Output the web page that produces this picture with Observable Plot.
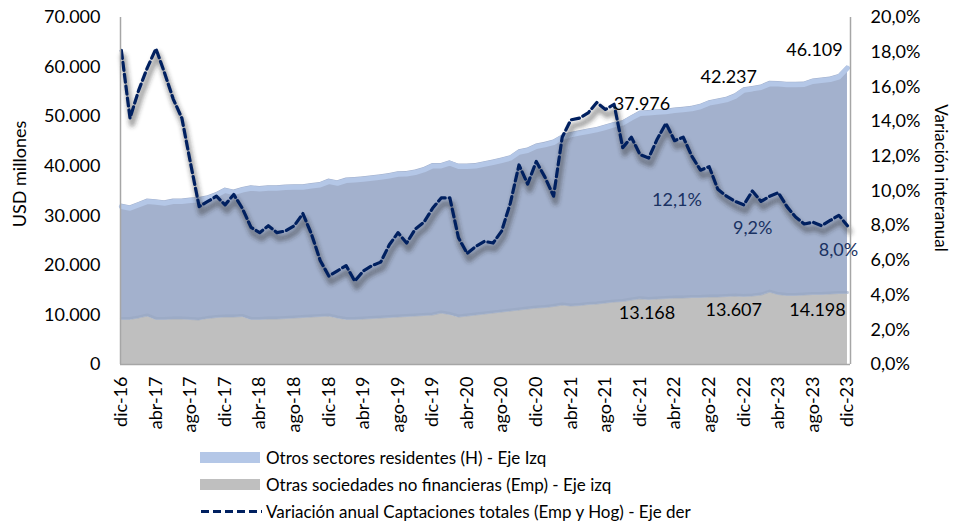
<!DOCTYPE html>
<html><head><meta charset="utf-8">
<script src="https://cdn.jsdelivr.net/npm/d3@7"></script>
<script src="https://cdn.jsdelivr.net/npm/@observablehq/plot@0.6"></script>
<style>
body{margin:0;background:#fff;font-family:Lato,sans-serif;}
#chart{width:953px;height:440px;}
.legend{margin-left:200px;padding-top:4px;font-size:17px;color:#000;line-height:1;}
.row{display:flex;align-items:center;height:27px;}
.sw{width:60px;height:11px;margin-right:6px;}
.txt{white-space:nowrap;}
</style></head><body>
<div id="chart"></div>
<div class="legend">
  <div class="row"><div class="sw" style="background:#b4c7e7"></div><span class="txt" id="l1"></span></div>
  <div class="row"><div class="sw" style="background:#bfbfbf"></div><span class="txt" id="l2"></span></div>
  <div class="row"><svg width="62" height="11" style="margin-right:4px"><line x1="1" x2="62" y1="5.5" y2="5.5" stroke="#002060" stroke-width="3.2" stroke-dasharray="8,4"/></svg><span class="txt" id="l3"></span></div>
</div>
<script>
// Series names
const seriesNames = [
  "Otros sectores residentes (H) - Eje Izq",
  "Otras sociedades no financieras (Emp) - Eje izq",
  "Variación anual Captaciones totales (Emp y Hog) - Eje der"
];
// X tick labels (every 4 months, dic-16 .. dic-23)
const tickLabels = ["dic-16","abr-17","ago-17","dic-17","abr-18","ago-18","dic-18","abr-19","ago-19","dic-19","abr-20","ago-20","dic-20","abr-21","ago-21","dic-21","abr-22","ago-22","dic-22","abr-23","ago-23","dic-23"];
// Otros sectores residentes (H), USD millones, monthly dic-16 .. dic-23
const hogares = [23360,23020,23390,23670,24230,24030,24270,24270,24570,24800,24840,25300,
  26090,25690,26110,27060,26920,26960,26960,27000,26960,26860,27030,27130,
  27700,27770,28610,28730,28770,28880,28980,29140,29390,29350,29530,29950,
  30660,30260,31110,30940,30740,30660,30800,30950,31150,31420,32430,32570,
  33180,33410,33690,34400,35120,35370,35510,35730,36020,36340,36590,37300,
  37976,38250,38300,38300,38450,38600,38700,39100,39730,40070,40300,40900,
  42237,42400,42500,42620,43070,43150,43150,43100,43610,43810,43900,44300,
  46109];
// Otras sociedades no financieras (Emp), USD millones
const empresas = [9000,9000,9300,9700,9000,9000,9100,9100,9000,8900,9200,9400,
  9500,9500,9600,9000,9000,9100,9100,9200,9300,9400,9500,9600,
  9700,9300,9000,9000,9100,9200,9300,9400,9500,9600,9700,9800,
  9900,10300,10000,9500,9700,9900,10100,10300,10500,10700,10900,11100,
  11300,11400,11600,11900,11700,11800,12000,12100,12300,12500,12600,12900,
  13168,13000,13100,13200,13300,13300,13400,13400,13500,13500,13600,13700,
  13607,13700,13900,14500,14000,13800,13800,13900,14000,14000,14100,14200,
  14198];
// Variación anual captaciones totales, %
const variacion = [18.1,14.2,15.8,17.1,18.2,16.8,15.3,14.2,11.6,9.1,9.4,9.7,
  9.2,9.8,9.0,7.9,7.6,8.0,7.6,7.7,8.0,8.7,7.5,6.0,
  5.1,5.4,5.7,4.8,5.4,5.7,5.9,6.9,7.6,7.0,7.8,8.2,
  9.0,9.6,9.6,7.3,6.4,6.8,7.1,7.0,7.7,9.3,11.5,10.4,
  11.7,10.8,9.7,13.1,14.1,14.2,14.5,15.1,14.7,15.0,12.5,13.1,
  12.1,11.9,13.0,13.9,12.9,13.1,12.0,11.2,11.4,10.1,9.7,9.4,
  9.2,10.0,9.4,9.7,9.9,9.1,8.5,8.1,8.2,8.0,8.3,8.6,
  8.0];
// Labelled months (dic-21, dic-22, dic-23)
const labelMonths = [60,72,84];

document.getElementById("l1").textContent = seriesNames[0];
document.getElementById("l2").textContent = seriesNames[1];
document.getElementById("l3").textContent = seriesNames[2];

const K = 3500; // 20% on right axis == 70.000 on left axis
const rows = hogares.map((h,i)=>({i, H:h, E:empresas[i], T:h+empresas[i], V:variacion[i], Vs:variacion[i]*K}));
const loc = d3.formatLocale({decimal:",", thousands:".", grouping:[3], currency:["",""]});
const fmtN = loc.format(",");
const fmtP = v => loc.format(".1f")(v) + "%";

const navy = "#002060";
const totalOff = [[2,-7],[-15,-10],[-33,-15]];
const empOff = [[7,14],[-10,13],[-30,16]];
const pctOff = [[37,46],[9,23],[-9,25]];

const marks = [
  Plot.areaY(rows, {x:"i", y1:0, y2:"E", fill:"#bfbfbf", curve:"linear"}),
  Plot.areaY(rows, {x:"i", y1:"E", y2:"T", fill:"#a3b1cd", curve:"linear"}),
  Plot.lineY(rows, {x:"i", y:"T", stroke:"#b4c7e7", strokeWidth:5, dy:2.5}),
  Plot.lineY(rows, {x:"i", y:"E", stroke:"#98a6c2", strokeWidth:3, dy:-1.5, strokeOpacity:0.6}),
  Plot.lineY(rows, {x:"i", y:"Vs", stroke:"#333", strokeOpacity:0.42, strokeWidth:6, dx:2, dy:6, ariaDescription:"shadow"}),
  Plot.lineY(rows, {x:"i", y:"Vs", stroke:navy, strokeWidth:3.2, strokeDasharray:"8,4"}),
  Plot.ruleY([0], {stroke:"#a6a6a6", strokeWidth:1.5}),
  Plot.ruleX([-0.1], {y1:0, y2:70000, stroke:"#a6a6a6", strokeWidth:1.5}),
  Plot.ruleX([84.35], {y1:0, y2:70000, stroke:"#a6a6a6", strokeWidth:1.5}),
  Plot.axisY({ticks:d3.range(0,70001,10000), tickFormat:fmtN, tickSize:0, tickPadding:20, label:null, fontSize:18}),
  Plot.axisY({anchor:"right", ticks:d3.range(0,70001,7000), tickFormat:d=>fmtP(d/K), tickSize:0, tickPadding:20, label:null, fontSize:18, textAnchor:"start"}),
  Plot.axisX({ticks:d3.range(0,85,4), tickFormat:d=>tickLabels[d/4], tickRotate:-90, tickSize:0, tickPadding:12, label:null, fontSize:18}),
  Plot.text(["USD millones"], {frameAnchor:"left", textAnchor:"middle", dx:-100, dy:-17, rotate:-90, fontSize:18}),
  Plot.text(["Variación interanual"], {frameAnchor:"right", textAnchor:"middle", dx:90, dy:-13, rotate:90, fontSize:17})
];
labelMonths.forEach((m,k)=>{
  const d = rows.filter(r=>r.i===m);
  marks.push(Plot.text(d, {x:"i", y:"T", text:r=>fmtN(r.H), dx:totalOff[k][0], dy:totalOff[k][1], fontSize:18, fill:"#000"}));
  marks.push(Plot.text(d, {x:"i", y:"E", text:r=>fmtN(r.E), dx:empOff[k][0], dy:empOff[k][1], fontSize:18, fill:"#000"}));
  marks.push(Plot.text(d, {x:"i", y:"Vs", text:r=>fmtP(r.V), dx:pctOff[k][0], dy:pctOff[k][1], fontSize:18, fill:"#1a3262"}));
});

const chart = Plot.plot({
  width:953, height:440,
  marginLeft:120, marginRight:103, marginTop:17, marginBottom:76,
  x:{type:"linear", domain:[-0.1,84.35]},
  y:{domain:[0,70000]},
  style:{fontFamily:"Lato, sans-serif", fontSize:"18px", color:"#000", background:"transparent"},
  marks
});
const svg = d3.select(chart);
const defs = svg.insert("defs", ":first-child");
defs.append("filter").attr("id","blurS").attr("x","-10%").attr("y","-10%").attr("width","120%").attr("height","120%")
  .append("feGaussianBlur").attr("stdDeviation", 2.2);
svg.selectAll("[aria-description=shadow]").attr("filter","url(#blurS)");
document.getElementById("chart").appendChild(chart);
</script>
</body></html>
